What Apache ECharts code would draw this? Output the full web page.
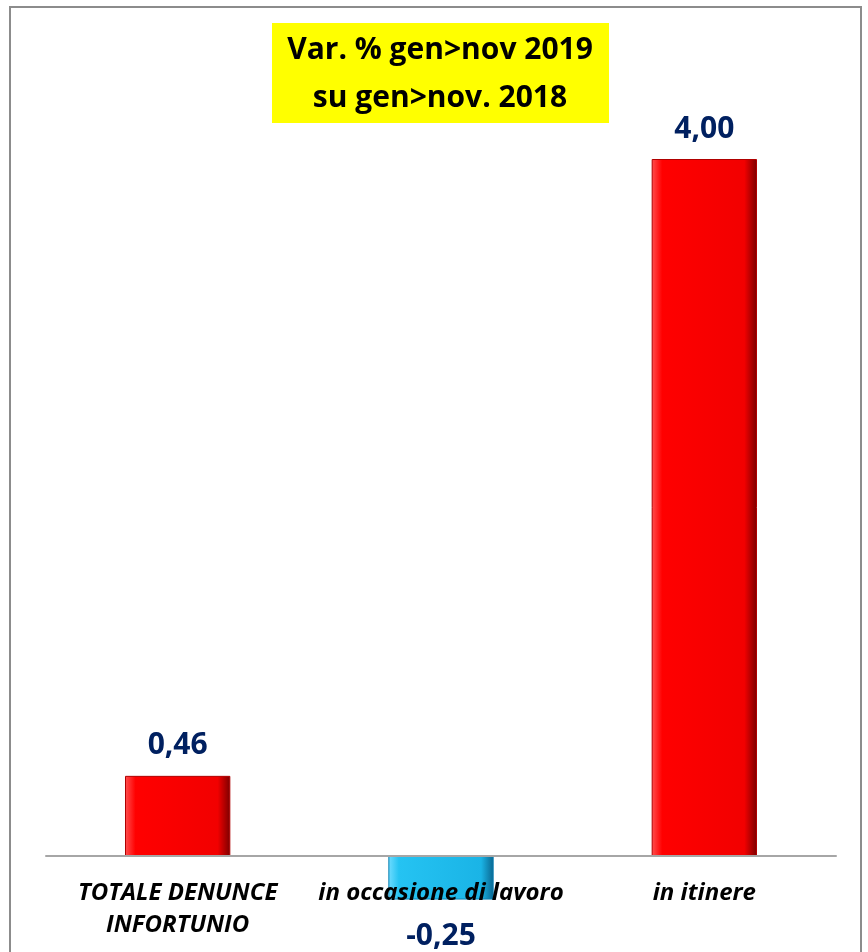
<!DOCTYPE html>
<html><head><meta charset="utf-8">
<script src="https://cdn.jsdelivr.net/npm/echarts@6/dist/echarts.min.js"></script>
<style>html,body{margin:0;padding:0;background:#fff}#c{width:868px;height:952px}</style>
</head><body><div id="c"></div>
<script>
const categories = ['TOTALE DENUNCE\nINFORTUNIO', 'in occasione di lavoro', 'in itinere'];
const values = [0.46, -0.25, 4.00];
const titleLines = ['Var. % gen>nov 2019', 'su gen>nov. 2018'];

const fontFam = '"Open Sans", sans-serif';
const redGrad = new echarts.graphic.LinearGradient(0,0,1,0,[
  {offset:0,color:'#ff5050'},{offset:0.1,color:'#ff0000'},{offset:0.88,color:'#f20000'},{offset:1,color:'#7a0000'}]);
const blueGrad = new echarts.graphic.LinearGradient(0,0,1,0,[
  {offset:0,color:'#70dcff'},{offset:0.1,color:'#25c3f2'},{offset:0.88,color:'#1ab4e6'},{offset:1,color:'#0a6690'}]);

const chart = echarts.init(document.getElementById('c'));
chart.setOption({
  animation:false,
  grid:{left:46,right:32,top:159,bottom:96,containLabel:false,outerBoundsMode:'none'},
  graphic:[
    {type:'rect',shape:{x:10,y:7,width:851,height:960},style:{fill:'none',stroke:'#8c8c8c',lineWidth:2},z:-1},
    {type:'rect',shape:{x:272,y:23,width:337,height:100},style:{fill:'#ffff00'},z:5},
    {type:'text',x:440,y:74,style:{text:titleLines.join('\n'),fill:'#000',font:'bold 30px '+fontFam,align:'center',verticalAlign:'middle',lineHeight:48},z:6}
  ],
  xAxis:{type:'category',data:categories,z:10,
    axisLine:{onZero:true,lineStyle:{color:'#a6a6a6',width:2}},
    axisTick:{show:false},
    axisLabel:{margin:21,color:'#000',fontFamily:fontFam,fontStyle:'italic',fontWeight:'bold',fontSize:24,lineHeight:32,interval:0}},
  yAxis:{type:'value',min:0,max:4,show:false,splitLine:{show:false}},
  series:[{type:'bar',barWidth:'40%',clip:false,z:1,
    data:values.map(v=>({value:v,itemStyle:{color:v<0?blueGrad:redGrad,borderColor:v<0?'#0a7fb0':'#b00000',borderWidth:1},
      label:{position:v<0?'bottom':'top',distance:v<0?22:15}})),
    label:{show:true,color:'#002060',fontFamily:fontFam,fontWeight:'bold',fontSize:30,
      formatter:p=>p.value.toFixed(2).replace('.',',')}
  }]
});
</script></body></html>
